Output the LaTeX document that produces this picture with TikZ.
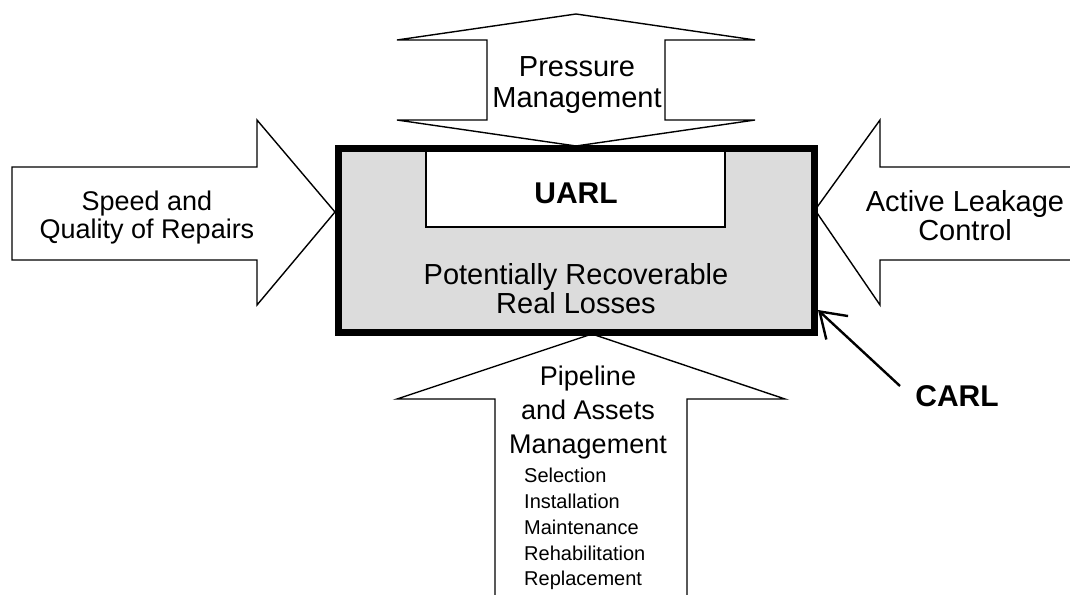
\documentclass[tikz,border=0pt]{standalone}
\usepackage{fontspec}
\setmainfont{Liberation Sans}
\usetikzlibrary{arrows.meta}
\begin{document}
\begin{tikzpicture}[x=1pt,y=-1pt,
  bigarrow/.style={draw=black,fill=white,line width=1.4pt,line join=miter},
  lbl/.style={anchor=base,inner sep=0pt,font=\fontsize{29}{31}\selectfont},
  lblleft/.style={anchor=base,inner sep=0pt,font=\fontsize{27}{30}\selectfont},
  pipe/.style={anchor=base,inner sep=0pt,font=\fontsize{27}{30}\selectfont},
  sub/.style={anchor=base west,inner sep=0pt,font=\fontsize{20}{24}\selectfont},
  boldlbl/.style={anchor=base,inner sep=0pt,font=\fontsize{30}{32}\selectfont\bfseries}]
\useasboundingbox (0,0) rectangle (1070,594);
\clip (0,0) rectangle (1070,594);
% top double arrow
\draw[bigarrow] (576,14) -- (755,40) -- (665,40) -- (665,120) -- (755,120) -- (576,146)
  -- (397,120) -- (487,120) -- (487,40) -- (397,40) -- cycle;
% left arrow
\draw[bigarrow] (12,167) -- (257,167) -- (257,120) -- (335,212) -- (257,305) -- (257,260) -- (12,260) -- cycle;
% right arrow
\draw[bigarrow] (1080,167) -- (880,167) -- (880,120) -- (815,210) -- (880,305) -- (880,260) -- (1080,260);
% bottom arrow
\draw[bigarrow] (592,334) -- (785,399) -- (687,399) -- (687,610) -- (495,610) -- (495,399) -- (397,399) -- cycle;
% main box
\fill[fill={rgb,255:red,220;green,220;blue,220}] (338.5,148.5) rectangle (814.5,332.5);
\draw[fill=white,line width=1.4pt] (426,150) rectangle (725,227);
\draw[line width=7pt] (338.5,148.5) rectangle (814.5,332.5);
\coordinate (carltip) at (818,310);
% labels
\node[lbl] (pm1) at (577,76) {Pressure};
\node[lbl] (pm2) at (577,107) {Management};
\node[lblleft] (sq1) at (147,210) {Speed and};
\node[lblleft] (sq2) at (147,238) {Quality of Repairs};
\node[lbl] (al1) at (965,211) {Active Leakage};
\node[lbl] (al2) at (965,240) {Control};
\node[boldlbl] (uarl) at (576,203) {UARL};
\node[lbl] (pr1) at (576,284) {Potentially Recoverable};
\node[lbl] (pr2) at (576,313) {Real Losses};
\node[pipe] (pa1) at (588,385) {Pipeline};
\node[pipe] (pa2) at (588,419) {and Assets};
\node[pipe] (pa3) at (588,453) {Management};
\node[sub] (s1) at (524,482) {Selection};
\node[sub] (s2) at (524,508) {Installation};
\node[sub] (s3) at (524,534) {Maintenance};
\node[sub] (s4) at (524,560) {Rehabilitation};
\node[sub] (s5) at (524,585) {Replacement};
\node[boldlbl] (carl) at (957,406) {CARL};
\coordinate (carlstart) at (900,386);
\draw[line width=2.4pt,-{Straight Barb[length=24pt,width=32pt,line width=2.4pt]}] (carlstart) -- (carltip);
\end{tikzpicture}
\end{document}
